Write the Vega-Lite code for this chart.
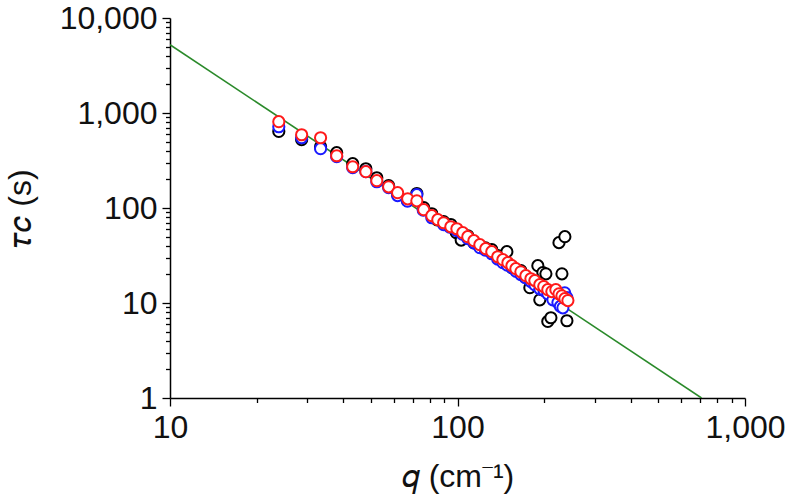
{
  "$schema": "https://vega.github.io/schema/vega-lite/v6.json",
  "width": 575,
  "height": 380,
  "autosize": "none",
  "padding": {"left": 170, "top": 18, "right": 43, "bottom": 106},
  "background": "white",
  "config": {
    "view": {"stroke": null},
    "axis": {
      "labelFont": "Liberation Sans",
      "titleFont": "Liberation Sans",
      "labelFontSize": 32,
      "titleFontSize": 32,
      "titleFontWeight": "normal",
      "labelColor": "#111111",
      "titleColor": "#111111",
      "domainColor": "black",
      "tickColor": "black",
      "domainWidth": 1.5,
      "tickWidth": 1.3,
      "grid": false,
      "labelOverlap": false,
      "labelFlush": false
    }
  },
  "layer": [
    {
      "data": {"values": [{"q": 10, "tau": 5236}, {"q": 706, "tau": 1}]},
      "mark": {"type": "line", "color": "#2a8a2a", "strokeWidth": 1.6, "clip": true},
      "encoding": {
        "x": {"field": "q", "type": "quantitative", "scale": {"type": "log", "domain": [10, 1000]},
          "axis": {
            "title": "𝑞 (cm⁻¹)",
            "titlePadding": 18,
            "values": [10,20,30,40,50,60,70,80,90,100,200,300,400,500,600,700,800,900,1000],
            "labelExpr": "abs(log(datum.value)/LN10 - round(log(datum.value)/LN10)) < 0.000001 ? format(datum.value, ',') : ''",
            "tickSize": {"condition": {"test": "abs(log(datum.value)/LN10 - round(log(datum.value)/LN10)) < 0.000001", "value": 8}, "value": 4.5},
            "labelPadding": 6
          }},
        "y": {"field": "tau", "type": "quantitative", "scale": {"type": "log", "domain": [1, 10000]},
          "axis": {
            "title": "𝜏𝑐 (s)",
            "titlePadding": 22,
            "values": [1,2,3,4,5,6,7,8,9,10,20,30,40,50,60,70,80,90,100,200,300,400,500,600,700,800,900,1000,2000,3000,4000,5000,6000,7000,8000,9000,10000],
            "labelExpr": "abs(log(datum.value)/LN10 - round(log(datum.value)/LN10)) < 0.000001 ? format(datum.value, ',') : ''",
            "tickSize": {"condition": {"test": "abs(log(datum.value)/LN10 - round(log(datum.value)/LN10)) < 0.000001", "value": 8}, "value": 4.5},
            "labelPadding": 5
          }}
      }
    },
    {
      "data": {"values": [
        {"s": "a", "q": 23.9, "tau": 640}, {"s": "a", "q": 28.7, "tau": 524}, {"s": "a", "q": 33.4, "tau": 442},
        {"s": "a", "q": 38.0, "tau": 382}, {"s": "a", "q": 43.2, "tau": 293}, {"s": "a", "q": 48.0, "tau": 259},
        {"s": "a", "q": 52.4, "tau": 208}, {"s": "a", "q": 57.6, "tau": 172}, {"s": "a", "q": 61.9, "tau": 140},
        {"s": "a", "q": 67.0, "tau": 120}, {"s": "a", "q": 72.2, "tau": 142}, {"s": "a", "q": 76.3, "tau": 101},
        {"s": "a", "q": 81.4, "tau": 87}, {"s": "a", "q": 85.0, "tau": 75}, {"s": "a", "q": 89.5, "tau": 72},
        {"s": "a", "q": 94.8, "tau": 67}, {"s": "a", "q": 99.0, "tau": 55}, {"s": "a", "q": 103, "tau": 46},
        {"s": "a", "q": 108.6, "tau": 51}, {"s": "a", "q": 114, "tau": 43}, {"s": "a", "q": 119.6, "tau": 40},
        {"s": "a", "q": 125, "tau": 38}, {"s": "a", "q": 131.6, "tau": 36.4}, {"s": "a", "q": 138.1, "tau": 31.5},
        {"s": "a", "q": 143.8, "tau": 28}, {"s": "a", "q": 148.5, "tau": 34.7}, {"s": "a", "q": 154.6, "tau": 23.6},
        {"s": "a", "q": 160, "tau": 22}, {"s": "a", "q": 166.1, "tau": 21.9}, {"s": "a", "q": 172, "tau": 19},
        {"s": "a", "q": 178.5, "tau": 14.5}, {"s": "a", "q": 185, "tau": 16.5}, {"s": "a", "q": 190.3, "tau": 24.7},
        {"s": "a", "q": 193.3, "tau": 10.8}, {"s": "a", "q": 196.5, "tau": 13.8}, {"s": "a", "q": 198.1, "tau": 20.9},
        {"s": "a", "q": 203, "tau": 20.3}, {"s": "a", "q": 206.1, "tau": 6.4}, {"s": "a", "q": 211.3, "tau": 7.0},
        {"s": "a", "q": 213, "tau": 12}, {"s": "a", "q": 218.2, "tau": 10.8}, {"s": "a", "q": 222, "tau": 11},
        {"s": "a", "q": 225.4, "tau": 43.2}, {"s": "a", "q": 228, "tau": 12}, {"s": "a", "q": 230.8, "tau": 20.3},
        {"s": "a", "q": 235, "tau": 10.5}, {"s": "a", "q": 236.3, "tau": 49.9}, {"s": "a", "q": 240.2, "tau": 6.5},

        {"s": "b", "q": 23.9, "tau": 717}, {"s": "b", "q": 28.7, "tau": 549}, {"s": "b", "q": 33.4, "tau": 421},
        {"s": "b", "q": 38.0, "tau": 347}, {"s": "b", "q": 43.2, "tau": 266}, {"s": "b", "q": 48.0, "tau": 241},
        {"s": "b", "q": 52.4, "tau": 189}, {"s": "b", "q": 57.6, "tau": 164}, {"s": "b", "q": 61.9, "tau": 135},
        {"s": "b", "q": 67.0, "tau": 118}, {"s": "b", "q": 72.2, "tau": 138}, {"s": "b", "q": 76.0, "tau": 95},
        {"s": "b", "q": 81.4, "tau": 79}, {"s": "b", "q": 89.5, "tau": 66.7}, {"s": "b", "q": 94.0, "tau": 63},
        {"s": "b", "q": 99.5, "tau": 57.7}, {"s": "b", "q": 104, "tau": 53}, {"s": "b", "q": 108.6, "tau": 47.5},
        {"s": "b", "q": 114, "tau": 43}, {"s": "b", "q": 119.6, "tau": 38.2}, {"s": "b", "q": 125, "tau": 36},
        {"s": "b", "q": 131.6, "tau": 33.0}, {"s": "b", "q": 138, "tau": 29}, {"s": "b", "q": 143.8, "tau": 26.6},
        {"s": "b", "q": 149, "tau": 25}, {"s": "b", "q": 154.6, "tau": 23.6}, {"s": "b", "q": 160, "tau": 21.5},
        {"s": "b", "q": 166.1, "tau": 19.9}, {"s": "b", "q": 172, "tau": 18.5}, {"s": "b", "q": 180.0, "tau": 16.8},
        {"s": "b", "q": 186, "tau": 15.5}, {"s": "b", "q": 193.3, "tau": 14.1}, {"s": "b", "q": 200, "tau": 13.5},
        {"s": "b", "q": 206.1, "tau": 12.5}, {"s": "b", "q": 214.7, "tau": 10.8}, {"s": "b", "q": 223.5, "tau": 10.1},
        {"s": "b", "q": 228, "tau": 9.2}, {"s": "b", "q": 232.6, "tau": 8.9}, {"s": "b", "q": 236, "tau": 12.8},
        {"s": "b", "q": 240.2, "tau": 11.4},

        {"s": "c", "q": 23.9, "tau": 810}, {"s": "c", "q": 28.7, "tau": 590}, {"s": "c", "q": 33.4, "tau": 549},
        {"s": "c", "q": 38.0, "tau": 355}, {"s": "c", "q": 43.2, "tau": 272}, {"s": "c", "q": 48.0, "tau": 241},
        {"s": "c", "q": 52.4, "tau": 194}, {"s": "c", "q": 57.6, "tau": 167}, {"s": "c", "q": 61.9, "tau": 145},
        {"s": "c", "q": 67.1, "tau": 125}, {"s": "c", "q": 72.2, "tau": 119}, {"s": "c", "q": 76.3, "tau": 96},
        {"s": "c", "q": 81.4, "tau": 83}, {"s": "c", "q": 85.4, "tau": 75.4}, {"s": "c", "q": 89.5, "tau": 70.0},
        {"s": "c", "q": 94.8, "tau": 63.5}, {"s": "c", "q": 99.5, "tau": 60.5}, {"s": "c", "q": 104.3, "tau": 55.0},
        {"s": "c", "q": 108.6, "tau": 49.9}, {"s": "c", "q": 114.0, "tau": 45.3}, {"s": "c", "q": 119.6, "tau": 41.1},
        {"s": "c", "q": 125.4, "tau": 37.3}, {"s": "c", "q": 131.6, "tau": 34.7}, {"s": "c", "q": 138.1, "tau": 30.7},
        {"s": "c", "q": 143.8, "tau": 28.6}, {"s": "c", "q": 149.7, "tau": 26.6}, {"s": "c", "q": 154.6, "tau": 24.7},
        {"s": "c", "q": 159.6, "tau": 23.0}, {"s": "c", "q": 166.1, "tau": 21.3}, {"s": "c", "q": 172.9, "tau": 19.4},
        {"s": "c", "q": 180.0, "tau": 18.0}, {"s": "c", "q": 185.8, "tau": 17.2}, {"s": "c", "q": 193.3, "tau": 15.6},
        {"s": "c", "q": 199.5, "tau": 14.9}, {"s": "c", "q": 206.1, "tau": 13.8}, {"s": "c", "q": 212.9, "tau": 13.2},
        {"s": "c", "q": 219.8, "tau": 13.8}, {"s": "c", "q": 225.4, "tau": 12.5}, {"s": "c", "q": 230.8, "tau": 11.9},
        {"s": "c", "q": 236.3, "tau": 11.1}, {"s": "c", "q": 242.1, "tau": 10.6}
      ]},
      "mark": {"type": "point", "shape": "circle", "filled": false, "fill": "white", "fillOpacity": 1, "size": 125, "strokeWidth": 2, "opacity": 1},
      "encoding": {
        "x": {"field": "q", "type": "quantitative"},
        "y": {"field": "tau", "type": "quantitative"},
        "stroke": {"field": "s", "type": "nominal", "legend": null,
          "scale": {"domain": ["a", "b", "c"], "range": ["#000000", "#1a1aff", "#ff1a1a"]}}
      }
    }
  ]
}
